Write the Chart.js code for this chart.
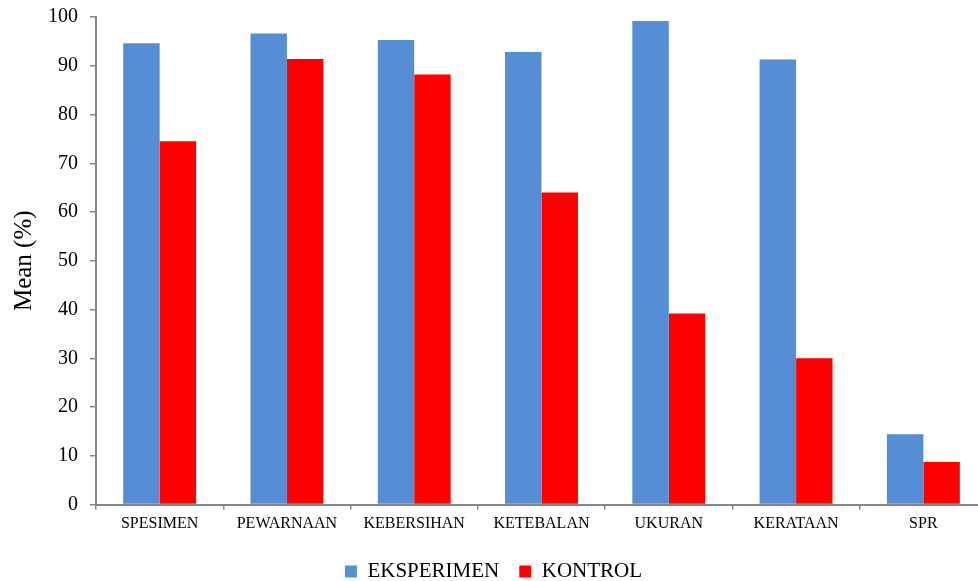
<!DOCTYPE html>
<html>
<head>
<meta charset="utf-8">
<script src="https://cdn.jsdelivr.net/npm/chart.js@4/dist/chart.umd.min.js"></script>
<style>
  html, body { margin: 0; padding: 0; background: #fff; overflow: hidden; }
  #wrap { width: 990px; height: 581px; }
</style>
</head>
<body>
<div id="wrap"><canvas id="c" width="990" height="581"></canvas></div>
<script>
const categories = ['SPESIMEN', 'PEWARNAAN', 'KEBERSIHAN', 'KETEBALAN', 'UKURAN', 'KERATAAN', 'SPR'];
const eksperimen = [94.6, 96.6, 95.3, 92.8, 99.2, 91.3, 14.4];
const kontrol    = [74.5, 91.4, 88.2, 64.0, 39.2, 30.0, 8.7];
const yTicks = [0, 10, 20, 30, 40, 50, 60, 70, 80, 90, 100];

const serif = "'Liberation Serif', 'Times New Roman', serif";
const axisGrey = '#868686';

new Chart(document.getElementById('c'), {
  type: 'bar',
  data: {
    labels: categories,
    datasets: [
      { label: 'EKSPERIMEN', data: eksperimen, backgroundColor: '#558ED5' },
      { label: 'KONTROL', data: kontrol, backgroundColor: '#FF0000' }
    ]
  },
  options: {
    responsive: false,
    animation: false,
    layout: { padding: { top: 17, right: 3, left: 0, bottom: -11 } },
    datasets: { bar: { categoryPercentage: 0.573, barPercentage: 1.0 } },
    plugins: {
      tooltip: { enabled: false },
      legend: {
        position: 'bottom',
        labels: {
          boxWidth: 12, boxHeight: 12, padding: 20,
          color: '#000',
          font: { family: serif, size: 21 }
        }
      }
    },
    scales: {
      x: {
        afterFit: (s) => { s.height = 36.5; },
        grid: { display: true, drawOnChartArea: false, drawTicks: true, tickLength: 5, color: axisGrey, lineWidth: 1.5, offset: true },
        border: { display: true, color: axisGrey, width: 2 },
        ticks: { color: '#000', padding: 5, maxRotation: 0, autoSkip: false, font: { family: serif, size: 16 } }
      },
      y: {
        min: 0, max: 100,
        afterBuildTicks: (s) => { s.ticks = yTicks.map(v => ({ value: v })); },
        afterFit: (s) => { s.width = 96; s.paddingTop = 0; s.paddingBottom = 0; },
        grid: { display: true, drawOnChartArea: false, drawTicks: true, tickLength: 6, color: axisGrey, lineWidth: 1.5 },
        border: { display: true, color: axisGrey, width: 2 },
        ticks: { color: '#000', padding: 12, font: { family: serif, size: 20 } },
        title: { display: true, text: 'Mean (%)', color: '#000', padding: { top: 9, bottom: 0 }, font: { family: serif, size: 25 } }
      }
    }
  }
});
</script>
</body>
</html>
